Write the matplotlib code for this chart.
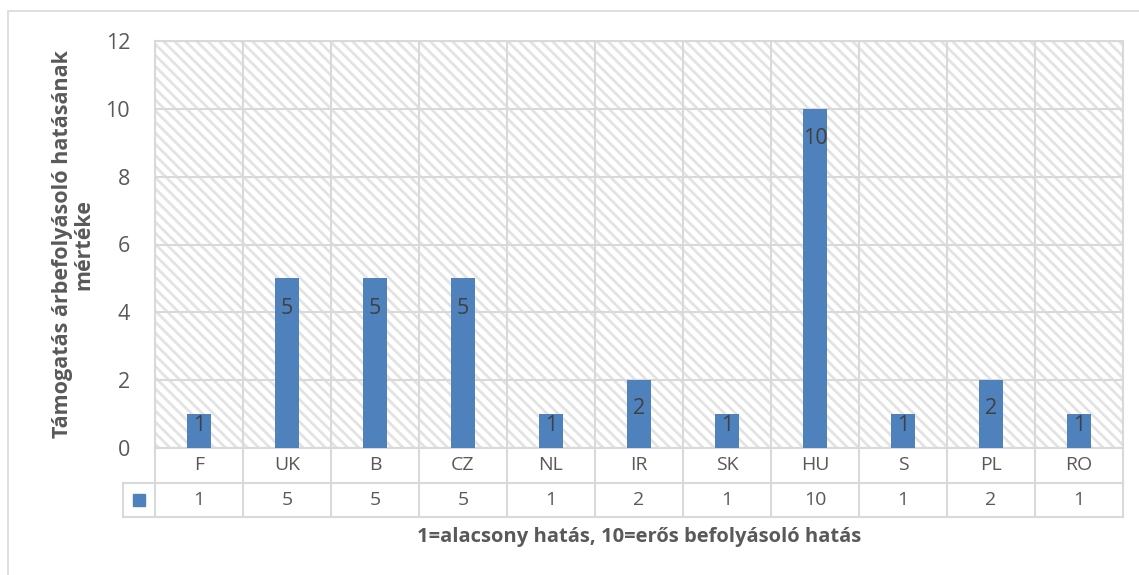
import matplotlib.pyplot as plt
from matplotlib.patches import Rectangle
from matplotlib.transforms import blended_transform_factory

orszagok = ['F', 'UK', 'B', 'CZ', 'NL', 'IR', 'SK', 'HU', 'S', 'PL', 'RO']
ertekek = [1, 5, 5, 5, 1, 2, 1, 10, 1, 2, 1]
y_ticks = [0, 2, 4, 6, 8, 10, 12]

plt.rcParams['font.family'] = ['Open Sans', 'DejaVu Sans']
plt.rcParams['hatch.linewidth'] = 2.0

kek = '#4f81bd'
racs = '#d9d9d9'
szoveg = '#595959'

fig = plt.figure(figsize=(11.39, 5.75), dpi=100)
# keret a diagram körül
fig.patches.append(Rectangle((8 / 1139, -0.1), 1.2, 1 - 11 / 575 + 0.1, transform=fig.transFigure,
                             fill=False, edgecolor=racs, linewidth=1.2))

ax = fig.add_axes([155 / 1139, 1 - 448 / 575, (1123 - 155) / 1139, (448 - 41) / 575])
n = len(orszagok)
x = list(range(n))
ax.set_xlim(-0.5, n - 0.5)
ax.set_ylim(0, 12)

# csíkozott háttér
ax.add_patch(Rectangle((0, 0), 1, 1, transform=ax.transAxes, facecolor='white',
                       edgecolor='#e3e3e3', linewidth=0, hatch='\\\\\\', zorder=0))

bars = ax.bar(x, ertekek, width=0.27, color=kek, zorder=3)
px = 407 / 12  # pixel egy egységre
for b, v in zip(bars, ertekek):
    off = min(30, v * px / 2 - 6) / px
    ax.text(b.get_x() + b.get_width() / 2, v - off, str(v), ha='center', va='center',
            fontsize=15.5, color='#404040', zorder=4)

ax.set_yticks(y_ticks)
ax.set_yticklabels([str(t) for t in y_ticks], fontsize=15.5, color=szoveg)
ax.tick_params(axis='y', length=0, pad=18)
ax.set_xticks([])
ax.yaxis.grid(True, color=racs, linewidth=1.5, zorder=1)
for s in ax.spines.values():
    s.set_color(racs)
    s.set_linewidth(1.5)

# adattábla
tr = blended_transform_factory(ax.transData, ax.transAxes)
sor = 34.5 / 407
for i in range(n + 1):
    ax.plot([i - 0.5, i - 0.5], [0, -2 * sor], transform=tr, color=racs, lw=1.5, clip_on=False)
    ax.axvline(i - 0.5, color=racs, lw=1.5, zorder=1)
bal = -0.5 - 32 / 88
ax.plot([-0.5, n - 0.5], [-sor, -sor], transform=tr, color=racs, lw=1.5, clip_on=False)
ax.plot([bal, -0.5], [-sor, -sor], transform=tr, color=racs, lw=1.5, clip_on=False)
ax.plot([bal, n - 0.5], [-2 * sor, -2 * sor], transform=tr, color=racs, lw=1.5, clip_on=False)
ax.plot([bal, bal], [-sor, -2 * sor], transform=tr, color=racs, lw=1.5, clip_on=False)
ax.plot([(bal - 0.5) / 2], [-1.5 * sor], transform=tr, marker='s', markersize=8.5,
        color=kek, clip_on=False)
for i, (o, v) in enumerate(zip(orszagok, ertekek)):
    ax.text(i, -0.5 * sor, o, transform=tr, ha='center', va='center', fontsize=14, color=szoveg)
    ax.text(i, -1.5 * sor, str(v), transform=tr, ha='center', va='center', fontsize=14, color=szoveg)

ax.set_ylabel('Támogatás árbefolyásoló hatásának\nmértéke', fontsize=15.5, fontweight='bold',
              color=szoveg, linespacing=1.0)
ax.yaxis.set_label_coords(-61 / 968, 0.5)
fig.text(639 / 1139, 1 - 537 / 575, '1=alacsony hatás, 10=erős befolyásoló hatás', ha='center',
         va='center', fontsize=14.5, fontweight='bold', color=szoveg)

plt.savefig('out.png', dpi=100)
